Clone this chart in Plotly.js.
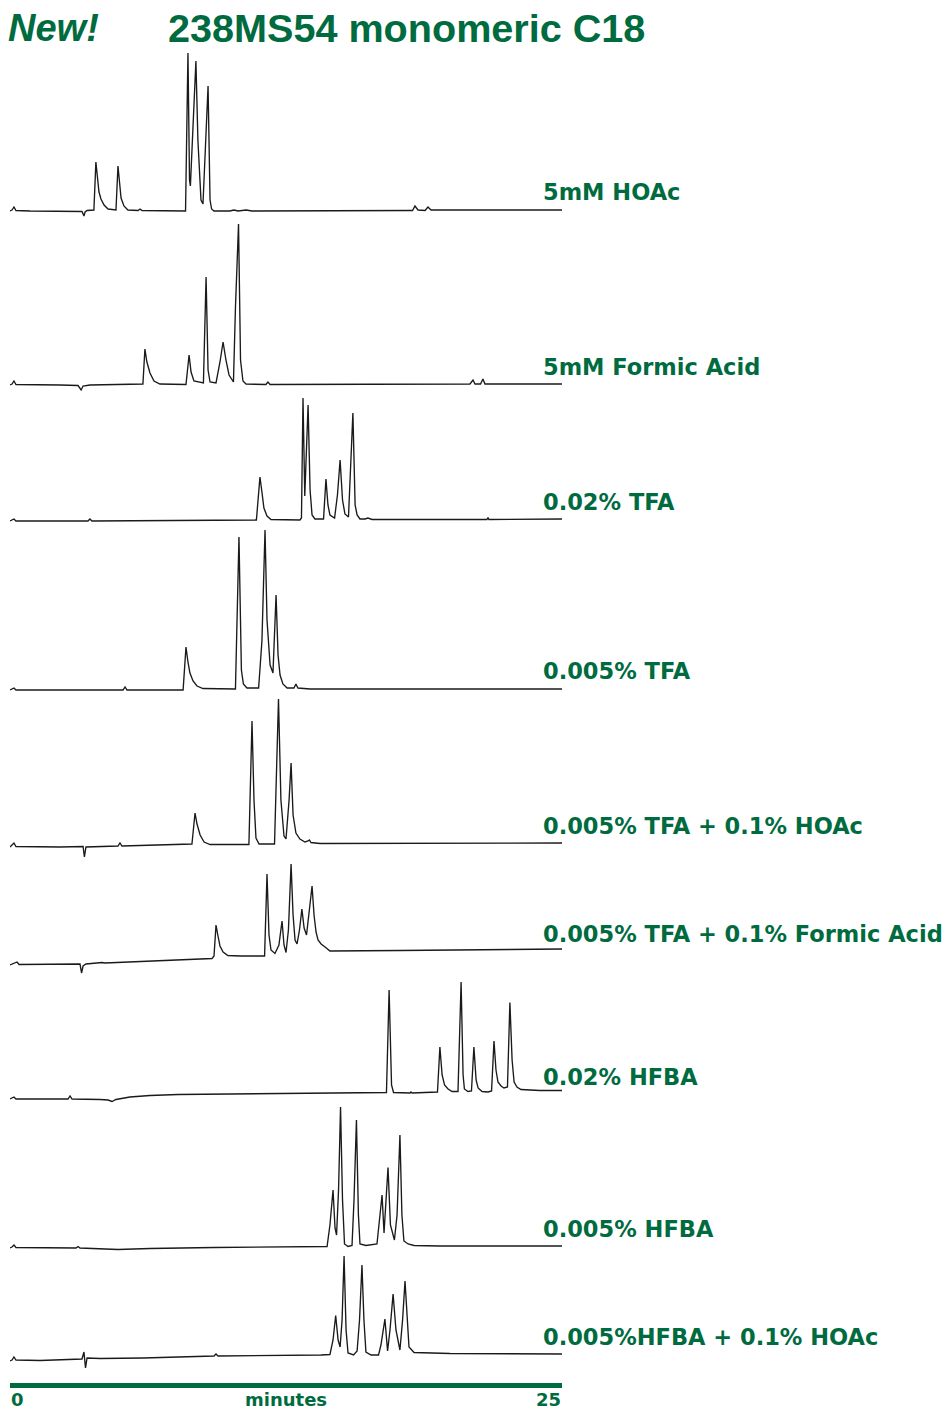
<!DOCTYPE html>
<html>
<head>
<meta charset="utf-8">
<script src="https://cdn.plot.ly/plotly-3.0.1.min.js"></script>
<style>
  html, body { margin: 0; padding: 0; background: #ffffff; }
  #chart { width: 948px; height: 1410px; }
</style>
</head>
<body>
<div id="chart"></div>
<script>
// ---------------- DATA (time in minutes, detector response in relative units) ----------------
const hoacTime = [0,0.09,0.18,0.27,0.91,2.94,3.26,3.35,3.40,3.49,3.80,3.89,3.96,4.03,4.12,4.26,4.44,4.80,4.89,4.96,5.03,5.16,5.34,5.80,5.89,5.98,7.95,8.06,8.13,8.17,8.42,8.51,8.65,8.74,8.97,9.06,9.13,9.24,9.96,10.14,10.33,10.69,10.96,18.12,18.23,18.34,18.48,18.80,18.93,19.07,25];
const hoacResp = [0,1,4,0.5,0,0,-0.5,-5,-1,0.5,1,49,31,19,12,6,2,1,45,25,13,5,1,0.5,2,0.5,0,158,31,25,150,71,11,7,125,11,2,0,0,1,0,1,0,0.5,0.5,5,1,0.5,4,1,1];

const formicTime = [0,0.09,0.18,0.27,2.26,3.08,3.22,3.31,3.62,6.02,6.11,6.20,6.34,6.52,6.79,7.97,8.11,8.20,8.33,8.76,8.88,8.97,9.06,9.33,9.51,9.65,9.78,9.92,10.12,10.21,10.35,10.44,10.55,10.69,11.59,11.68,11.78,20.83,20.97,21.06,21.31,21.42,21.51,25];
const formicResp = [0,1,4,0.5,0,-0.5,-5,-1,0,1,36,23,12,4,1,0.5,30,13,4,2,108,15,3,2,23,43,25,10,3,77,161,25,4,1,0.5,3,0.5,1,5,1,1,6,1,1];

const tfa002Time = [0,0.18,0.27,3.53,3.62,3.71,11.16,11.32,11.41,11.50,11.64,11.82,13.13,13.20,13.27,13.35,13.50,13.59,13.68,13.81,14.20,14.31,14.40,14.49,14.70,14.83,14.95,15.06,15.17,15.33,15.53,15.63,15.72,15.85,16.08,16.21,16.40,21.60,21.65,21.69,25];
const tfa002Resp = [0,2,0,0,2,0,1,44,29,13,5,1.5,1,3,123,25,116,31,6,2,2,42,16,6,3,26,61,21,7,4,108,16,6,2,2,3,1.5,1.5,3.5,1.5,2];

const tfa0005Time = [0,0.18,0.27,5.12,5.21,5.30,7.84,7.97,8.06,8.15,8.29,8.47,8.74,10.21,10.37,10.48,10.57,10.73,11.26,11.41,11.55,11.64,11.78,11.91,12.05,12.14,12.23,12.36,12.55,12.86,12.95,13.04,13.59,25];
const tfa0005Resp = [0,2,0,0,3,0,0,43,28,17,9,4,1.5,1,153,20,6,2,2,49,160,70,25,17,95,35,15,6,2,2,6,2,1,1];

const tfaHoacTime = [0,0.18,0.27,2.26,3.31,3.37,3.44,4.89,4.98,5.07,8.24,8.38,8.47,8.61,8.79,9.06,10.82,10.96,11.05,11.14,11.28,11.98,12.16,12.27,12.41,12.50,12.64,12.73,12.82,12.95,13.13,13.36,13.50,13.56,13.63,14.04,25];
const tfaHoacResp = [0,4,0.5,0,0.5,-10,0,1,4,1,3,34,23,12,5,2.5,2.5,126,47,9,3,3,148,47,11,8,47,84,32,14,8,5,6,7,4.5,3.5,4];

const tfaFormicTime = [0,0.18,0.32,0.41,3.08,3.17,3.24,3.31,3.44,4.17,4.30,5.43,7.70,9.15,9.24,9.33,9.42,9.51,9.65,9.87,10.42,11.53,11.64,11.73,11.82,12.00,12.18,12.32,12.41,12.50,12.61,12.73,12.82,12.91,13.00,13.11,13.22,13.32,13.43,13.56,13.68,13.77,13.86,13.95,14.09,14.27,14.49,17.66,25];
const tfaFormicResp = [0,1.5,3,0.5,0.5,1,-8,-1,1,2.5,2,3,5,6.5,9,40,29,19,13,9.5,9,9,91,30,15,11.5,20,44,20,12.5,35,101,50,25,21,35,56,37,30,55,79,50,33,25,21,18,14,14.5,16];

const hfba002Time = [0,0.18,0.27,2.63,2.72,2.81,4.08,4.44,4.62,4.80,5.43,6.34,7.61,10.87,14.04,17.05,17.17,17.28,17.37,18.12,18.16,18.21,19.36,19.47,19.57,19.68,19.84,20.02,20.29,20.43,20.52,20.58,20.74,20.90,21.01,21.11,21.20,21.38,21.65,21.81,21.92,22.01,22.10,22.24,22.37,22.53,22.64,22.74,22.83,22.96,23.14,24.00,25];
const hfba002Resp = [-1,1,-1,-1,2,-1,-1.5,-2,-3.5,-1.5,1,2.5,3.5,4,4.5,5.5,108,13,5.5,5,6,5,6,51,23,13,9,6.5,6.5,116,23,9,6.5,7,51,18,10,6.5,6,7,57,28,16,12,10,11,95.5,38,16,11,8.5,7.5,7.5];

const hfba0005Time = [0,0.09,0.18,0.27,2.99,3.08,3.17,4.08,4.89,6.34,9.24,14.36,14.49,14.63,14.72,14.79,14.88,14.97,15.06,15.15,15.31,15.49,15.58,15.69,15.78,15.85,16.12,16.62,16.73,16.85,16.94,17.03,17.12,17.23,17.41,17.53,17.66,17.75,17.84,18.03,18.30,19.47,25];
const hfba0005Resp = [0,1,3,0.5,0,1.5,0,-0.5,-1.5,-0.5,0.5,1.5,23,58,20,13,58,141,48,4,1.5,2.5,48,128,33,4,2.5,4,26,53,15,43,80.5,23,8,33,113,33,7,4,2.5,2,2];

const hfbaHoacTime = [0,0.09,0.18,0.27,1.36,3.26,3.35,3.42,3.49,4.08,6.02,9.24,9.33,9.42,14.09,14.49,14.63,14.75,14.86,14.95,15.04,15.13,15.22,15.31,15.56,15.72,15.83,15.94,16.03,16.12,16.35,16.69,16.80,16.98,17.10,17.21,17.35,17.48,17.66,17.78,17.89,17.98,18.07,18.30,19.93,25];
const hfbaHoacResp = [0,1,4,1,0.5,2,9,-7,3,2.5,3,5,7,5,6,6.5,21,45.5,21,14,41,105,31,8,6,10,41,96,41,9,6,6,16,42,10,31,67,31,11,41,80,41,14,8.5,7.5,7];

const traceLabels = [
  "5mM HOAc",
  "5mM Formic Acid",
  "0.02% TFA",
  "0.005% TFA",
  "0.005% TFA + 0.1% HOAc",
  "0.005% TFA + 0.1% Formic Acid",
  "0.02% HFBA",
  "0.005% HFBA",
  "0.005%HFBA + 0.1% HOAc"
];
const xTickLabels = ["0", "25"];
const xRange = [0, 25];
const xAxisName = "minutes";
const titleNew = "New!";
const titleMain = "238MS54 monomeric C18";

// ---------------- LAYOUT ----------------
const W = 948, H = 1410, L = 10, R = 386;
const GREEN = "#006B3F";
const series = [
  [hoacTime, hoacResp], [formicTime, formicResp], [tfa002Time, tfa002Resp],
  [tfa0005Time, tfa0005Resp], [tfaHoacTime, tfaHoacResp], [tfaFormicTime, tfaFormicResp],
  [hfba002Time, hfba002Resp], [hfba0005Time, hfba0005Resp], [hfbaHoacTime, hfbaHoacResp]
];
// vertical placement of each chromatogram (pixel row of its zero level) and of its label
const rowZeroPx = [211, 385, 521, 690, 847, 965, 1098, 1248, 1361];
const labelRowPx = [192, 367, 502, 671, 826, 934, 1077, 1229, 1337];
const below = 25, above = 175;

const data = series.map((s, i) => ({
  x: s[0], y: s[1], type: "scatter", mode: "lines",
  line: { color: "#1a1a1a", width: 1.35 },
  xaxis: "x", yaxis: i === 0 ? "y" : "y" + (i + 1),
  hoverinfo: "skip", showlegend: false
}));

const layout = {
  width: W, height: H,
  margin: { l: L, r: R, t: 0, b: 0, pad: 0 },
  paper_bgcolor: "#ffffff",
  plot_bgcolor: "rgba(0,0,0,0)",
  showlegend: false,
  xaxis: {
    range: xRange, anchor: "free", position: (H - 1385) / H,
    showline: true, linecolor: GREEN, linewidth: 5,
    showgrid: false, zeroline: false, showticklabels: false, ticks: "",
    fixedrange: true
  },
  annotations: [],
  title: {
    text: titleMain,
    font: { family: "Liberation Sans, Arial, sans-serif", size: 39.6, color: GREEN, weight: 700 },
    xref: "container", yref: "container",
    x: 168 / W, xanchor: "left",
    y: 1 - 28 / H, yanchor: "middle",
    pad: { t: 0, b: 0, l: 0, r: 0 }
  }
};

series.forEach((s, i) => {
  const key = i === 0 ? "yaxis" : "yaxis" + (i + 1);
  const z = rowZeroPx[i];
  layout[key] = {
    domain: [(H - (z + below)) / H, (H - (z - above)) / H],
    range: [-below, above],
    visible: false, fixedrange: true, anchor: "x"
  };
  layout.annotations.push({
    text: traceLabels[i], xref: "paper", yref: "paper",
    x: (541 - L) / (W - L - R), xanchor: "left",
    y: (H - labelRowPx[i]) / H, yanchor: "middle",
    showarrow: false,
    font: { family: "DejaVu Sans, sans-serif", size: 22.5, color: GREEN, weight: 700 }
  });
});

// "New!" in the title row
layout.annotations.push({
  text: "<i>" + titleNew + "</i>", xref: "paper", yref: "paper",
  x: (6 - L) / (W - L - R), xanchor: "left",
  y: 1 - 28 / H, yanchor: "middle", showarrow: false,
  font: { family: "Liberation Sans, Arial, sans-serif", size: 38, color: GREEN, weight: 700, style: "italic" }
});

// axis end labels and axis name
const axisFont = { family: "DejaVu Sans, sans-serif", size: 18, color: GREEN, weight: 700 };
const axisLabelY = (H - 1399) / H;
layout.annotations.push({
  text: xTickLabels[0], xref: "x", yref: "paper", x: xRange[0], xanchor: "left",
  y: axisLabelY, yanchor: "middle", showarrow: false, font: axisFont, borderpad: 0
});
layout.annotations.push({
  text: xTickLabels[1], xref: "x", yref: "paper", x: xRange[1], xanchor: "right",
  y: axisLabelY, yanchor: "middle", showarrow: false, font: axisFont, borderpad: 0
});
layout.annotations.push({
  text: xAxisName, xref: "x", yref: "paper", x: (xRange[0] + xRange[1]) / 2, xanchor: "center",
  y: axisLabelY, yanchor: "middle", showarrow: false, font: axisFont, borderpad: 0
});

Plotly.newPlot("chart", data, layout, { staticPlot: true, displayModeBar: false });
</script>
</body>
</html>
